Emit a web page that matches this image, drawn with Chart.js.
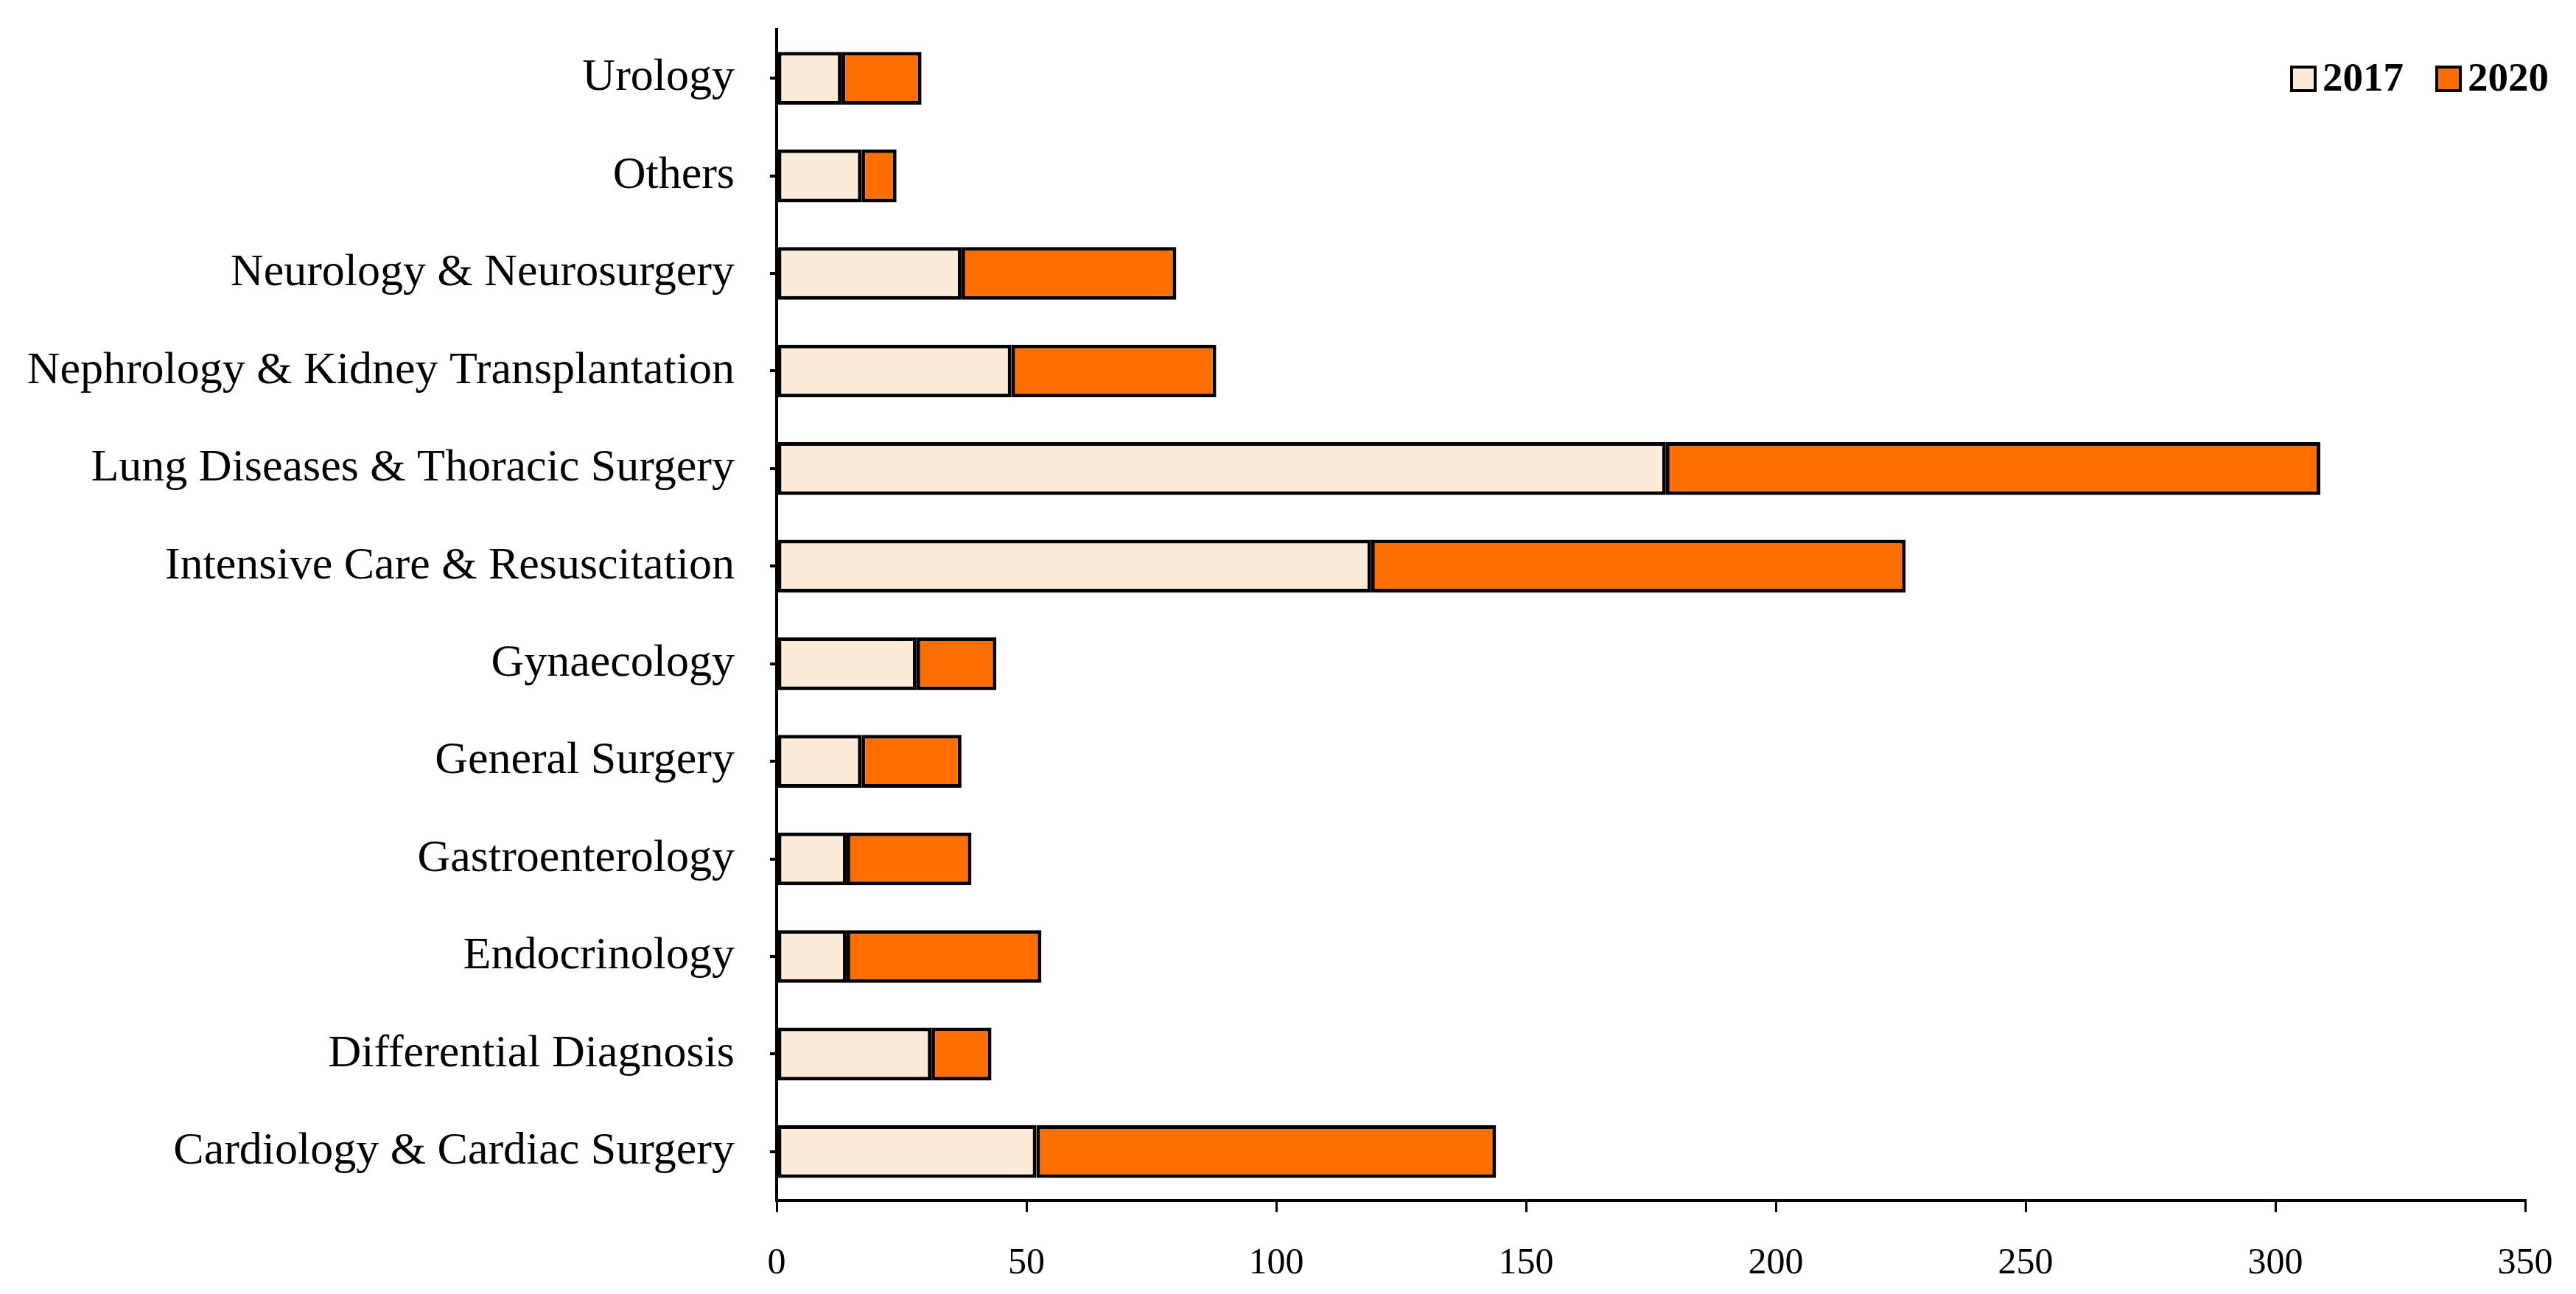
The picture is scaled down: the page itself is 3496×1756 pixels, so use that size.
<!DOCTYPE html>
<html>
<head>
<meta charset="utf-8">
<script src="https://cdn.jsdelivr.net/npm/chart.js@4"></script>
<style>
  html, body { margin: 0; padding: 0; background: #fff; }
  #wrap { width: 3496px; height: 1756px; }
</style>
</head>
<body>
<div id="wrap"><canvas id="myChart"></canvas></div>
<script>
// categories listed top to bottom, as in the picture
const departments = [
  "Urology",
  "Others",
  "Neurology & Neurosurgery",
  "Nephrology & Kidney Transplantation",
  "Lung Diseases & Thoracic Surgery",
  "Intensive Care & Resuscitation",
  "Gynaecology",
  "General Surgery",
  "Gastroenterology",
  "Endocrinology",
  "Differential Diagnosis",
  "Cardiology & Cardiac Surgery"
];
const values2017 = [13, 17, 37, 47, 178, 119, 28, 17, 14, 14, 31, 52];
const values2020 = [16, 7, 43, 41, 131, 107, 16, 20, 25, 39, 12, 92];
const xTicks = [0, 50, 100, 150, 200, 250, 300, 350];

const serif = "'Liberation Serif', 'DejaVu Serif', serif";

// legend sits inside the plot, top right, so draw it by hand
const cornerLegend = {
  id: "cornerLegend",
  afterDraw(chart) {
    const c = chart.ctx;
    const area = chart.chartArea;
    const y = area.top + 67;
    let x = area.right - 317;
    c.save();
    c.font = "bold 55px " + serif;
    c.textBaseline = "middle";
    chart.data.datasets.forEach((ds) => {
      c.fillStyle = ds.backgroundColor;
      c.fillRect(x, y - 16, 32, 32);
      c.lineWidth = 4;
      c.strokeStyle = "#000";
      c.strokeRect(x, y - 16, 32, 32);
      c.fillStyle = "#000";
      c.fillText(ds.label, x + 42, y + 2);
      x += 197;
    });
    c.restore();
  },
};

var ctx = document.getElementById("myChart").getContext("2d");
var chart = new Chart(ctx, {
  type: "bar",
  data: {
    labels: departments,
    datasets: [
      {
        label: "2017",
        data: values2017,
        backgroundColor: "#FDEBDA",
        borderColor: "#000",
        borderWidth: 5,
        borderSkipped: false,
      },
      {
        label: "2020",
        data: values2020,
        backgroundColor: "#FF6F00",
        borderColor: "#000",
        borderWidth: 5,
        borderSkipped: false,
      },
    ],
  },
  plugins: [cornerLegend],
  options: {
    indexAxis: "y",
    responsive: true,
    maintainAspectRatio: false,
    animation: false,
    layout: { padding: { top: 0, right: 69, left: 0, bottom: 0 } },
    datasets: { bar: { barPercentage: 1, categoryPercentage: 0.54 } },
    plugins: {
      tooltip: { enabled: false },
      legend: { display: false },
    },
    scales: {
      x: {
        stacked: true,
        min: 0,
        max: 350,
        afterBuildTicks: (scale) => {
          scale.ticks = xTicks.map((v) => ({ value: v }));
        },
        afterFit: (scale) => {
          scale.height = 127;
          scale.paddingRight = 0;
        },
        border: { display: true, color: "#000", width: 4 },
        grid: { drawOnChartArea: false, drawTicks: true, tickLength: 16, color: "#000", lineWidth: 3 },
        ticks: { color: "#000", font: { family: serif, size: 50 }, padding: 40 },
      },
      y: {
        stacked: true,
        afterFit: (scale) => {
          scale.width = 1054;
          scale.paddingTop = 40;
          scale.paddingBottom = 0;
        },
        border: { display: true, color: "#000", width: 4 },
        grid: { offset: false, drawOnChartArea: false, drawTicks: true, tickLength: 9, color: "#000", lineWidth: 4 },
        ticks: { color: "#000", font: { family: serif, size: 62 }, padding: 48 },
      },
    },
  },
});
</script>
</body>
</html>
